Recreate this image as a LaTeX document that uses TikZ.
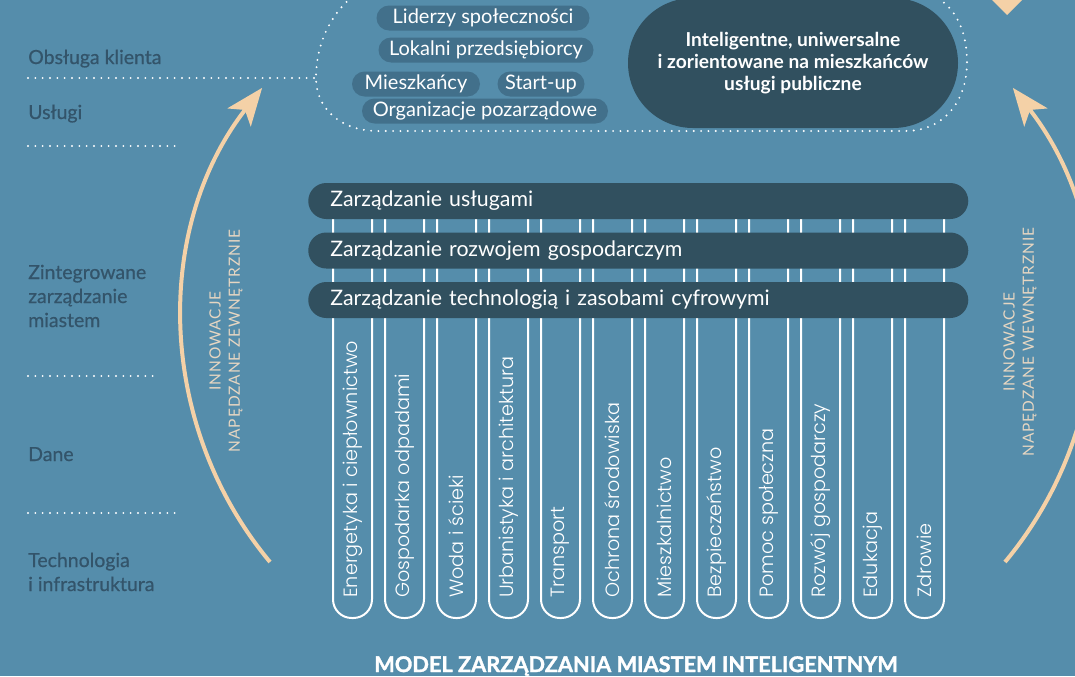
\documentclass[tikz,border=0pt]{standalone}
\usepackage{fontspec}
\setmainfont{Lato}
\newfontfamily\thinfont{Poppins Light}
\newfontfamily\heavyfont{Lato}[BoldFeatures={FakeBold=1.4}]
\newfontfamily\spacedfont{Lato}[LetterSpace=6]
\newfontfamily\labelfont{Lato}[FakeBold=0.6]
\usetikzlibrary{arrows.meta}
\definecolor{bgc}{HTML}{558DAB}
\definecolor{darkc}{HTML}{31505F}
\definecolor{chipc}{HTML}{42708B}
\definecolor{labelc}{HTML}{33546A}
\definecolor{peach}{HTML}{F4D1A7}
\definecolor{innovc}{HTML}{E6D6C2}
\begin{document}
\begin{tikzpicture}[x=0.75pt,y=-0.75pt,
  lbl/.style={text=labelc, font=\labelfont\fontsize{14.6}{18}\selectfont, anchor=base west, inner sep=0pt, align=left},
  dots/.style={white, line width=1.6pt, line cap=round, dash pattern=on 0pt off 5.5pt},
  chipbox/.style={fill=chipc, text=white, rounded corners=9.4pt, minimum height=18.75pt, inner sep=0pt, font=\fontsize{15}{17}\selectfont},
  barbox/.style={fill=darkc, text=white, rounded corners=13.5pt, minimum height=27pt, text width=462pt, inner xsep=16.5pt, inner ysep=0pt, align=left, anchor=west, font=\fontsize{16}{18}\selectfont},
  pillbox/.style={draw=white, line width=1.5pt, rounded corners=14pt, minimum width=29.25pt, minimum height=324.75pt, inner sep=0pt},
  pilltext/.style={rotate=90, anchor=west, text=white, font=\thinfont\fontsize{14.4}{16}\selectfont, inner sep=0pt},
  flow/.style={draw=peach, line width=3pt, -{Stealth[length=28pt,width=22pt,inset=7pt]}},
  innov/.style={rotate=90, align=center, text=innovc, font=\spacedfont\fontsize{11.6}{14.5}\selectfont, inner sep=0pt}
]
\useasboundingbox (0,0) rectangle (1075,676);
\fill[bgc] (0,0) rectangle (1075,676);
\clip (0,0) rectangle (1075,676);

% dotted guide lines
\draw[dots] (28,78) -- (316,78);
\draw[dots] (28,146) -- (177,146);
\draw[dots] (28,376) -- (153,376);
\draw[dots] (28,513) -- (177,513);
% dotted cloud outline
\draw[dots] (352,-3) .. controls (330,15) and (316,45) .. (316,78)
  .. controls (316,108) and (340,131) .. (378,131) -- (905,131)
  .. controls (945,131) and (967,100) .. (967,62)
  .. controls (967,30) and (955,8) .. (936,-3);

% left labels (base = last line)
\node[lbl] (l1) at (28,64) {Obsługa klienta};
\node[lbl] (l2) at (28,119) {Usługi};
\node[lbl] (l3) at (28,327) {Zintegrowane\\zarządzanie\\miastem};
\node[lbl] (l4) at (28,461) {Dane};
\node[lbl] (l5) at (28,591) {Technologia\\i infrastruktura};

% chips
\node[chipbox, minimum width=159.75pt] (c1) at (483,18) {Liderzy społeczności};
\node[chipbox, minimum width=161.25pt] (c2) at (486,50) {Lokalni przedsiębiorcy};
\node[chipbox, minimum width=96pt] (c3) at (416,84) {Mieszkańcy};
\node[chipbox, minimum width=65.25pt] (c4) at (541,84) {Start-up};
\node[chipbox, minimum width=184.5pt] (c5) at (485,111) {Organizacje pozarządowe};

% services oval
\node[fill=darkc, rounded corners=48.75pt, minimum width=247.5pt, minimum height=97.5pt, text=white, align=center, font=\bfseries\fontsize{14.4}{16.8}\selectfont] (svc) at (793,63)
  {Inteligentne, uniwersalne\\i zorientowane na mieszkańców\\usługi publiczne};

% peach tip at top right
\fill[peach] (989,-3) -- (1007,15) -- (1025,-3) -- cycle;

% vertical sector pills
\foreach \t [count=\i from 0] in {Energetyka i ciepłownictwo, Gospodarka odpadami, Woda i ścieki, Urbanistyka i architektura, Transport, Ochrona środowiska, Mieszkalnictwo, Bezpieczeństwo, Pomoc społeczna, Rozwój gospodarczy, Edukacja, Zdrowie}{
  \node[pillbox] (p\i) at ({352.5+52*\i},401.5) {};
  \node[pilltext] (t\i) at ({352.5+52*\i},598) {\t};
}

% horizontal management bars
\node[barbox] (b1) at (308,201) {Zarządzanie usługami};
\node[barbox] (b2) at (308,250.5) {Zarządzanie rozwojem gospodarczym};
\node[barbox] (b3) at (308,300) {Zarządzanie technologią i zasobami cyfrowymi};

% innovation arrows
\coordinate (la) at (270,562);
\coordinate (ra) at (1005,562);
\draw[flow] (la) arc[start angle=140.2, end angle=217.9, radius=378];
\draw[flow] (ra) arc[start angle=39.8, end angle=-37.9, radius=378];
\node[innov] (il) at (226,341) {INNOWACJE\\NAPĘDZANE ZEWNĘTRZNIE};
\node[innov] (ir) at (1020,342) {INNOWACJE\\NAPĘDZANE WEWNĘTRZNIE};

% title
\node[text=white, font=\heavyfont\bfseries\fontsize{16.3}{18}\selectfont, inner sep=0pt] (title) at (636,666) {MODEL ZARZĄDZANIA MIASTEM INTELIGENTNYM};
\end{tikzpicture}
\end{document}
